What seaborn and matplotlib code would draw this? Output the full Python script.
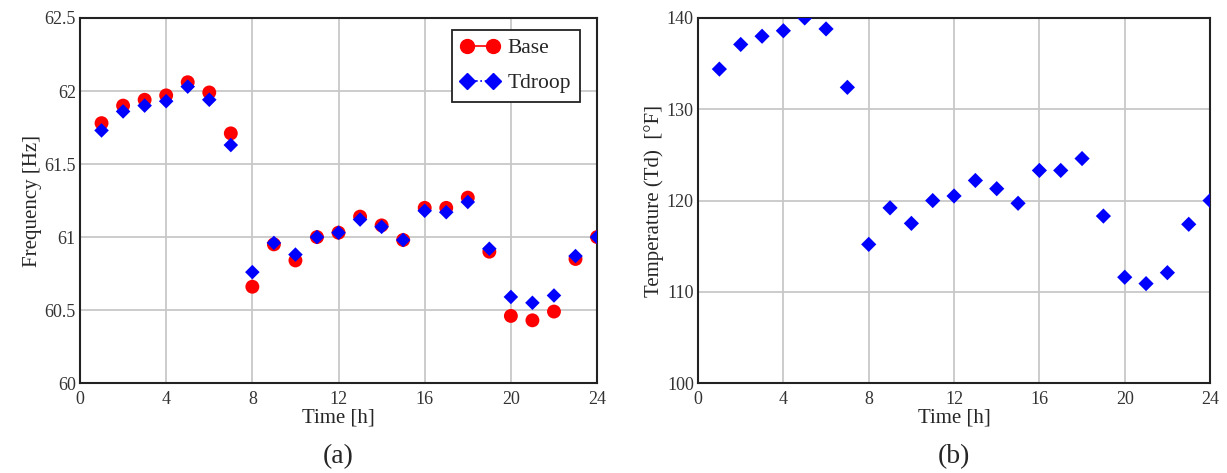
import numpy as np
import pandas as pd
import seaborn as sns
import matplotlib
matplotlib.use("Agg")
import matplotlib.pyplot as plt
from matplotlib.lines import Line2D
from matplotlib.ticker import FuncFormatter

hours = list(range(1, 25))
freq_base = [61.78, 61.90, 61.94, 61.97, 62.06, 61.99, 61.71, 60.66, 60.95, 60.84, 61.00, 61.03,
             61.14, 61.08, 60.98, 61.20, 61.20, 61.27, 60.90, 60.46, 60.43, 60.49, 60.85, 61.00]
freq_tdroop = [61.73, 61.86, 61.90, 61.93, 62.03, 61.94, 61.63, 60.76, 60.96, 60.88, 61.00, 61.03,
               61.12, 61.07, 60.98, 61.18, 61.17, 61.24, 60.92, 60.59, 60.55, 60.60, 60.87, 61.00]
temp_td = [134.4, 137.1, 138.0, 138.6, 140.0, 138.8, 132.4, 115.2, 119.2, 117.5, 120.0, 120.5,
           122.2, 121.3, 119.7, 123.3, 123.3, 124.6, 118.3, 111.6, 110.9, 112.1, 117.4, 120.0]
x_ticks = [0, 4, 8, 12, 16, 20, 24]

sns.set_style("whitegrid", {"grid.color": "#c8c8c8", "axes.edgecolor": "#222222"})
plt.rcParams['font.family'] = ['Liberation Serif', 'DejaVu Serif']

df = pd.DataFrame({"hour": hours, "Base": freq_base, "Tdroop": freq_tdroop, "Td": temp_td})

fig = plt.figure(figsize=(12.27, 4.73), dpi=100)
ax1 = fig.add_axes([0.0652, 0.190, 0.4214, 0.772])
ax2 = fig.add_axes([0.5689, 0.190, 0.4173, 0.772])

sns.scatterplot(data=df, x="hour", y="Base", ax=ax1, color="#ff0000", marker="o", s=100,
                edgecolor="none", zorder=3)
sns.scatterplot(data=df, x="hour", y="Tdroop", ax=ax1, color="#0000ff", marker="D", s=55,
                edgecolor="none", zorder=4)
sns.scatterplot(data=df, x="hour", y="Td", ax=ax2, color="#0000ff", marker="D", s=60,
                edgecolor="none", zorder=4)

fmt = FuncFormatter(lambda v, p: f"{v:g}")
for ax, ylim, yticks, ylabel, tag in [
        (ax1, (60, 62.5), [60, 60.5, 61, 61.5, 62, 62.5], "Frequency [Hz]", "(a)"),
        (ax2, (100, 140), [100, 110, 120, 130, 140], "Temperature (Td)  [\u00b0F]", "(b)")]:
    ax.set_xlim(0, 24)
    ax.set_ylim(*ylim)
    ax.set_xticks(x_ticks)
    ax.set_yticks(yticks)
    ax.yaxis.set_major_formatter(fmt)
    ax.grid(True, linewidth=1.3)
    for sp in ax.spines.values():
        sp.set_linewidth(1.5)
        sp.set_color("#222222")
    ax.tick_params(axis="both", length=0, labelsize=13, labelcolor="#333333")
    ax.tick_params(axis="x", pad=6)
    ax.tick_params(axis="y", pad=3)
    ax.set_xlabel("Time [h]", fontsize=15, labelpad=0)
    ax.set_ylabel(ylabel, fontsize=15, labelpad=2)
    ax.text(0.5, -0.2, tag, transform=ax.transAxes, ha="center", va="center", fontsize=20)

handles = [Line2D([0], [0], color="#ff0000", marker="o", markersize=10, linestyle="-",
                  linewidth=1.2),
           Line2D([0], [0], color="#0000ff", marker="D", markersize=8, linestyle="-.",
                  linewidth=1.2)]
leg = ax1.legend(handles, ["Base", "Tdroop"], loc="upper right", numpoints=2,
                 bbox_to_anchor=(0.967, 0.968), borderaxespad=0, fontsize=15.5, frameon=True,
                 fancybox=False, handlelength=1.8, handletextpad=0.4, borderpad=0.4,
                 labelspacing=0.7)
leg.get_frame().set_edgecolor("#222222")
leg.get_frame().set_linewidth(1.3)
leg.get_frame().set_alpha(1)

fig.savefig("out.png", dpi=100)
